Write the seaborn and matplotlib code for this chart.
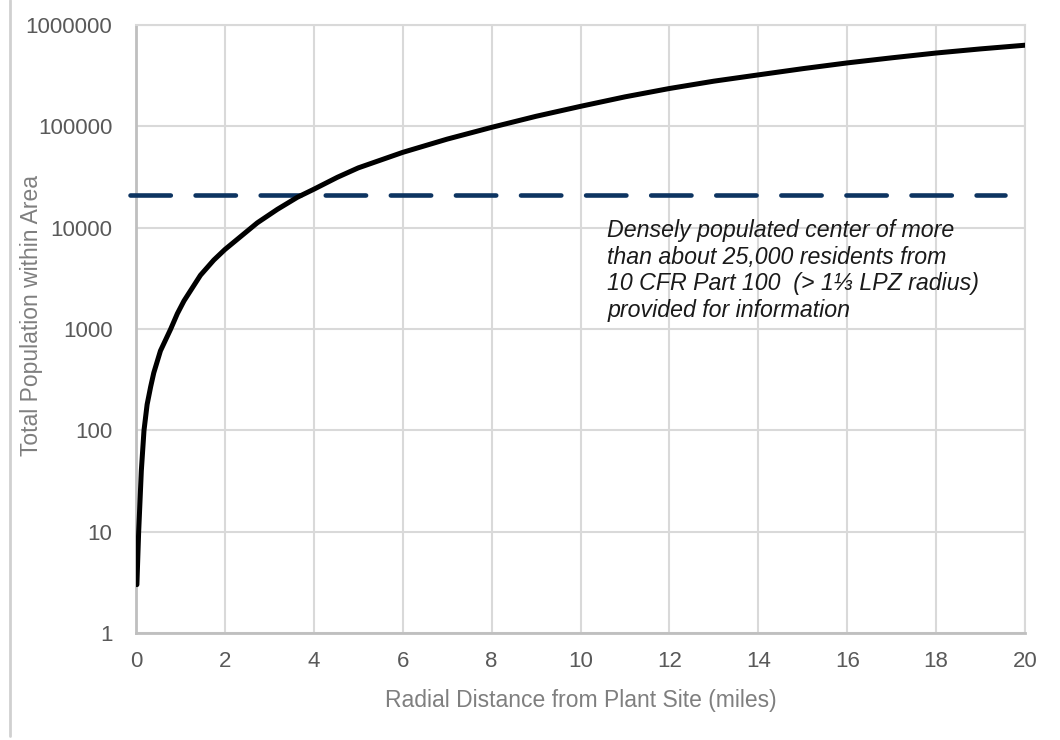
import matplotlib
matplotlib.use('Agg')
import matplotlib.pyplot as plt
import seaborn as sns
import pandas as pd
from matplotlib.lines import Line2D

# values
radius_mi = [0.02, 0.06, 0.12, 0.18, 0.25, 0.33, 0.4, 0.55, 0.78, 0.93, 1.08,
             1.45, 1.75, 2.0, 2.28, 2.73, 3.18, 3.63, 4.0, 4.53, 5.0, 6.0, 7.0,
             8.0, 9.0, 10.0, 11.0, 12.0, 13.0, 14.0, 15.0, 16.0, 17.0, 18.0,
             19.0, 20.0]
population = [3, 10, 40, 100, 180, 270, 370, 610, 1000, 1420, 1900,
              3400, 4800, 6100, 7700, 11200, 15200, 20000, 24000, 31500, 39000,
              55500, 75000, 98000, 126000, 158000, 196000, 237000, 280000,
              323000, 372000, 424000, 476000, 531000, 583000, 634000]
threshold = 21000
y_ticks = [1, 10, 100, 1000, 10000, 100000, 1000000]
x_ticks = list(range(0, 21, 2))
note = ("Densely populated center of more\n"
        "than about 25,000 residents from\n"
        "10 CFR Part 100  (> 1\u2153 LPZ radius)\n"
        "provided for information")

df = pd.DataFrame({'r': radius_mi, 'pop': population})

sns.set_theme(style='white')
plt.rcParams['font.family'] = ['Liberation Sans', 'DejaVu Sans']

fig = plt.figure(figsize=(10.6, 7.4), dpi=100)
ax = fig.add_axes([0.1283, 0.1446, 0.967 - 0.1283, 0.966 - 0.1446])

ax.set_yscale('log')
ax.set_xlim(0, 20)
ax.set_ylim(1, 1000000)

# grid
ax.grid(True, color='#d9d9d9', lw=1.5)
ax.set_axisbelow(True)

# threshold dashed line
ax.axhline(threshold, xmin=-0.007, xmax=0.977, color='#0d3461', lw=3.3,
           dashes=(8.8, 5.4), dash_capstyle='round', clip_on=False, zorder=3)

# population curve
sns.lineplot(data=df, x='r', y='pop', ax=ax, color='black', lw=3.6, zorder=4)

ax.set_xticks(x_ticks)
ax.set_xticklabels([str(t) for t in x_ticks])
ax.set_yticks(y_ticks)
ax.set_yticklabels([str(t) for t in y_ticks])
ax.minorticks_off()
ax.tick_params(axis='y', length=0, pad=17, labelsize=16, labelcolor='#595959')
ax.tick_params(axis='x', length=0, pad=13, labelsize=16, labelcolor='#595959')

ax.set_xlabel('Radial Distance from Plant Site (miles)', fontsize=16.5,
              color='#7f7f7f', labelpad=12)
ax.set_ylabel('Total Population within Area', fontsize=16.5, color='#7f7f7f')
ax.yaxis.set_label_coords(-0.105, 0.523)

for side in ['left', 'bottom']:
    ax.spines[side].set_color('#bfbfbf')
    ax.spines[side].set_linewidth(2)
for side in ['top', 'right']:
    ax.spines[side].set_color('#d9d9d9')
    ax.spines[side].set_linewidth(1.5)

ax.text(10.6, 12200, note, fontsize=16.7, style='italic', color='#1a1a1a',
        ha='left', va='top', linespacing=1.2)

# page border at left edge
fig.add_artist(Line2D([0.0094, 0.0094], [0.005, 1.0], color='#d0d0d0', lw=2))

fig.savefig('out.png', dpi=100, facecolor='white')
